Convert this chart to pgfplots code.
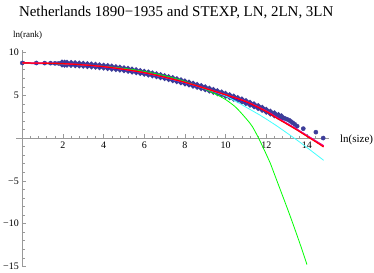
\documentclass[border=0pt]{standalone}
\usepackage{pgfplots}
\pgfplotsset{compat=1.18}
\usepackage{fontspec}
\setmainfont{Liberation Serif}
\definecolor{dotc}{rgb}{0.24,0.24,0.6}
\definecolor{mag}{rgb}{1,0,0.5}
\definecolor{cyn}{rgb}{0.25,1,1}
\begin{document}
\begin{tikzpicture}
\path[use as bounding box] (-16.2bp,-6.7bp) rectangle (357.8bp,266.3bp);
\begin{axis}[
 at={(0,0)}, anchor=south west,
 scale only axis, width=313.1bp, height=216.3bp,
 xmin=-0.3, xmax=15.1, ymin=-15, ymax=10.3,
 axis lines=middle, axis line style={-, gray!80, line width=0.6pt},
 xtick={0,2,...,16}, xticklabels={,2,4,6,8,10,12,14,},
 ytick={-15,-10,...,10}, yticklabels={−15,−10,−5,,5,10},
 minor x tick num=4, minor y tick num=4,
 tick style={gray!80, line width=0.5pt},
 major tick length=4bp, minor tick length=2.5bp,
 tick align=inside,
 tick label style={font=\fontsize{10}{12}\selectfont, text=black},
 clip=false, clip marker paths=true,
]
\addplot[only marks, mark=*, mark size=2.1bp, color=dotc] coordinates {
(0,8.78)(0.69,8.78)(1.10,8.77)(1.39,8.76)(1.61,8.74)(1.79,8.73)
(12.91,2.30)(13.02,2.20)(13.13,2.08)(13.2,1.95)(13.3,1.79)(13.4,1.61)(13.52,1.39)
(13.82,1.10)(14.44,0.69)(14.8,0.0)
};
\addplot[color=dotc, line width=3.2bp, mark=*, mark size=1.9bp, smooth] coordinates {
(1.95,8.72)(2.08,8.70)(2.2,8.69)
(2.4,8.67)(2.6,8.64)(2.8,8.61)(3.0,8.57)(3.2,8.53)(3.4,8.49)(3.6,8.45)(3.8,8.40)(4.0,8.35)
(4.2,8.30)(4.4,8.24)(4.6,8.18)(4.8,8.12)(5.0,8.05)(5.2,7.98)(5.4,7.90)(5.6,7.82)(5.8,7.73)
(6.0,7.64)(6.2,7.55)(6.4,7.45)(6.6,7.35)(6.8,7.24)(7.0,7.13)(7.2,7.01)(7.4,6.89)(7.6,6.77)
(7.8,6.64)(8.0,6.51)(8.2,6.38)(8.4,6.24)(8.6,6.10)(8.8,5.96)(9.0,5.82)(9.2,5.67)(9.4,5.52)
(9.6,5.37)(9.8,5.22)(10.0,5.06)(10.2,4.90)(10.4,4.73)(10.6,4.56)(10.8,4.39)(11.0,4.21)
(11.2,4.02)(11.4,3.83)(11.6,3.63)(11.8,3.42)(12.0,3.20)(12.2,2.98)(12.4,2.78)(12.6,2.58)
(12.75,2.42)
};
\addplot[blue, line width=1.2pt, smooth] coordinates {
(0,8.74)(2,8.66)(4,8.31)(6,7.59)(8,6.45)(10,5.00)(11,4.20)(12,3.12)(12.5,2.42)(13,1.72)(13.5,1.02)(14,0.28)(14.5,-0.47)(14.82,-0.95)
};
\addplot[green, line width=0.8pt, smooth] coordinates {
(0,8.74)(1,8.72)(2,8.66)(3,8.55)(4,8.39)(5,8.15)(6,7.80)(7,7.30)(7.5,6.99)(8,6.63)(8.5,6.19)(9,5.70)(9.5,5.15)(10,4.50)(10.5,3.60)(11,2.30)(11.3,1.40)(11.62,0.0)(12.0,-1.9)(12.19,-2.9)(12.5,-4.85)(13.0,-8.0)(13.3,-9.95)(13.59,-11.9)(13.8,-13.35)(14.0,-14.8)
};
\addplot[cyn, line width=0.8pt, smooth] coordinates {
(0,8.76)(2,8.68)(4,8.34)(6,7.62)(8,6.47)(9,5.76)(9.7,5.20)(10,4.92)(10.5,4.30)(11,3.62)(11.7,2.67)(12,2.22)(12.5,1.45)(13,0.62)(13.5,-0.22)(13.83,-0.80)(14.3,-1.65)(14.82,-2.60)
};
\addplot[mag, line width=1.5pt, smooth] coordinates {
(0,8.79)(2,8.70)(4,8.35)(6,7.64)(8,6.51)(10,5.06)(11,4.27)(12,3.15)(12.5,2.42)(13,1.72)(13.5,1.02)(14,0.28)(14.5,-0.45)(14.82,-0.92)
};
\addplot[red, line width=1.1pt, smooth] coordinates {
(0,8.78)(2,8.70)(4,8.35)(6,7.64)(8,6.51)(10,5.06)(11,4.25)(12,3.10)(12.5,2.35)(13,1.65)(13.5,0.95)(14,0.20)(14.5,-0.55)(14.82,-1.05)
};
\end{axis}
\node[anchor=base] at (160bp,249.3bp) {\fontsize{15}{18}\selectfont Netherlands 1890−1935 and STEXP, LN, 2LN, 3LN};
\node[anchor=base west, inner sep=0pt] at (-3.2bp,228.3bp) {\fontsize{9}{10}\selectfont ln(rank)};
\node[anchor=base west, inner sep=0pt] at (323.8bp,123.3bp) {\fontsize{11}{12}\selectfont ln(size)};
\end{tikzpicture}
\end{document}
